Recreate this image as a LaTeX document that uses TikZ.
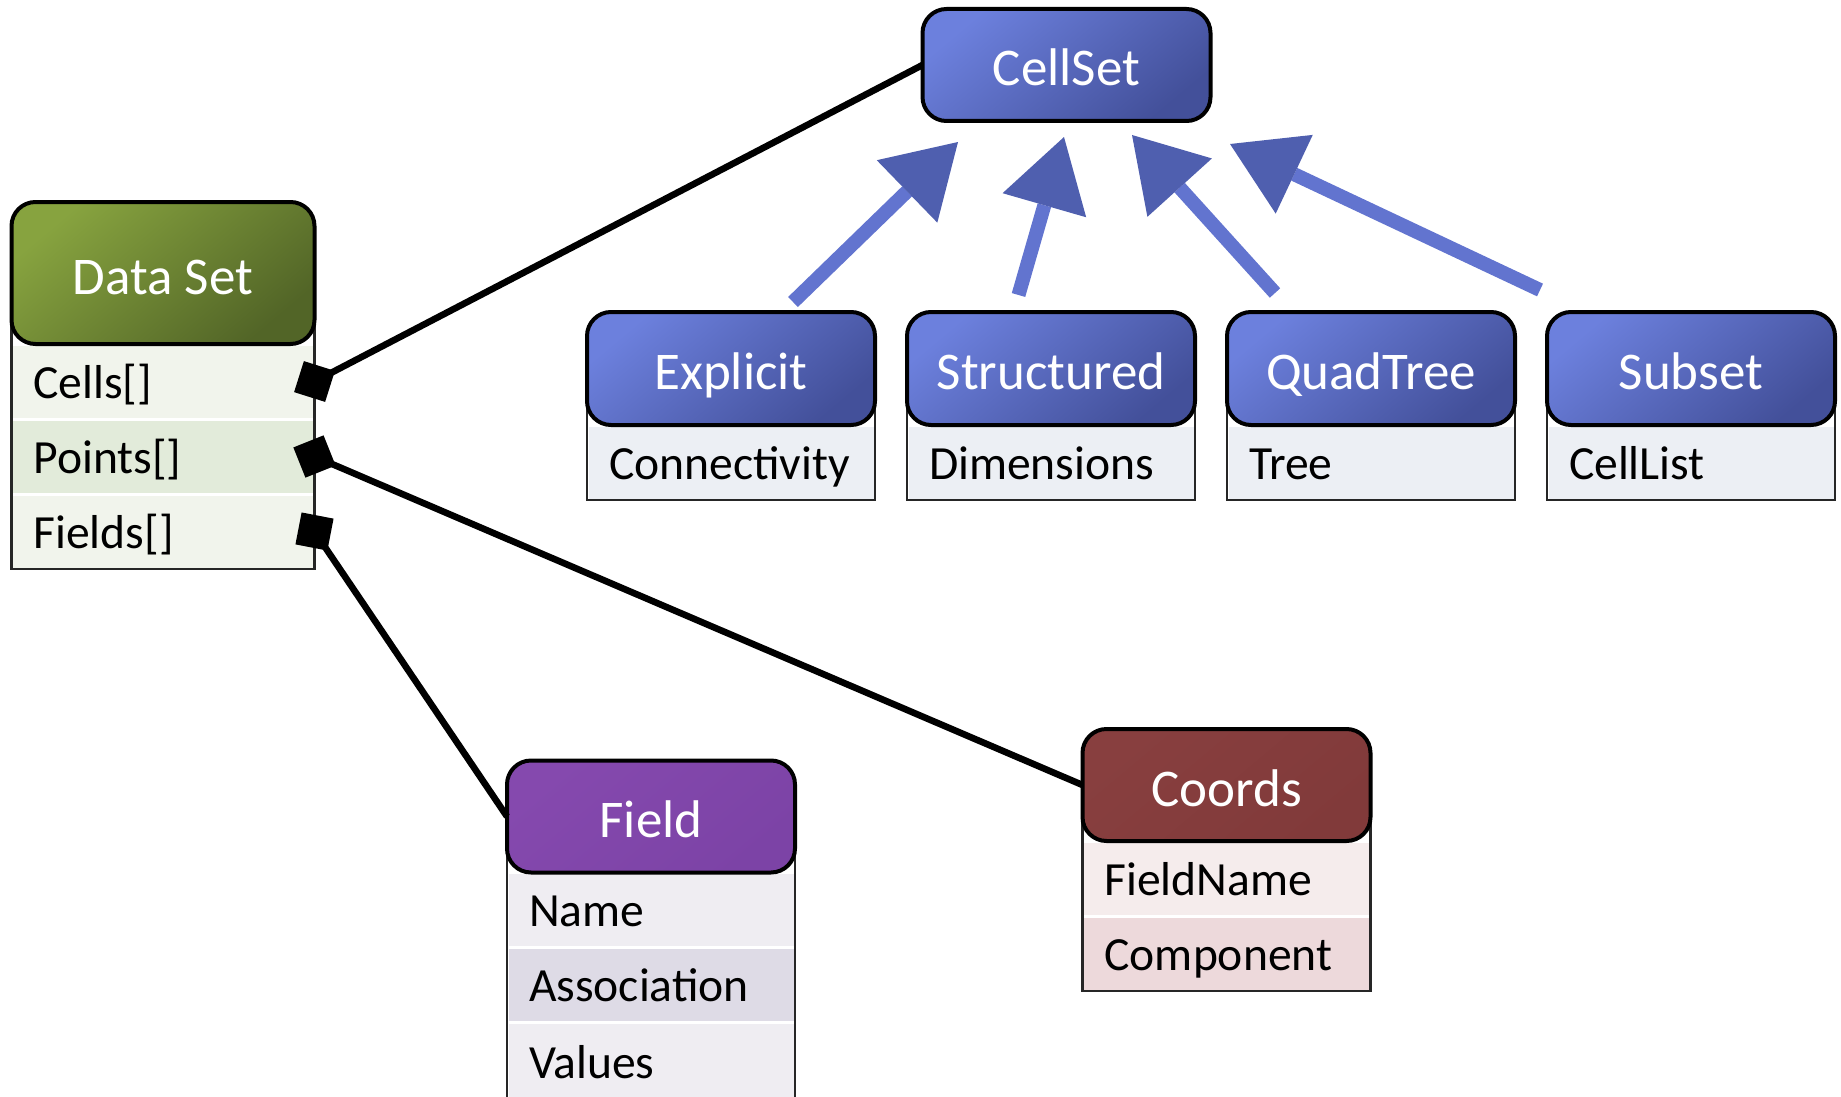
\documentclass[tikz,border=0pt]{standalone}
\usepackage{fontspec}
\setmainfont{Carlito}
\usetikzlibrary{positioning,arrows.meta}
\definecolor{blueA}{HTML}{6C80DD}
\definecolor{blueB}{HTML}{43509A}
\definecolor{greenA}{HTML}{87A33F}
\definecolor{greenB}{HTML}{526527}
\definecolor{purpA}{HTML}{8549AE}
\definecolor{purpB}{HTML}{7C43A6}
\definecolor{brownA}{HTML}{883F3F}
\definecolor{brownB}{HTML}{813A3A}
\definecolor{dsLight}{HTML}{F1F4EC}
\definecolor{dsDark}{HTML}{E2EBDA}
\definecolor{blueBody}{HTML}{ECEFF4}
\definecolor{fLight}{HTML}{EFEDF2}
\definecolor{fDark}{HTML}{DEDBE6}
\definecolor{cLight}{HTML}{F5ECEC}
\definecolor{cDark}{HTML}{EDD9DB}
\definecolor{shaftBlue}{HTML}{6274CF}
\definecolor{headBlue}{HTML}{4F5FAF}
\pgfdeclarelayer{bg}
\pgfsetlayers{bg,main}
\begin{document}
\begin{tikzpicture}[x=0.5pt, y=-0.5pt, line join=round,
    hdr/.style={draw=black, line width=2pt, rounded corners=12pt, text=white, font=\fontsize{26.5}{30}\selectfont, minimum width=144pt, minimum height=56pt, text height=21pt, text depth=0pt, inner sep=0pt, outer sep=0pt},
    bluehdr/.style={hdr, top color=blueA, bottom color=blueB, shading angle=40},
    greenhdr/.style={hdr, top color=greenA, bottom color=greenB, shading angle=40},
    purphdr/.style={hdr, top color=purpA, bottom color=purpB, shading angle=40},
    brownhdr/.style={hdr, top color=brownA, bottom color=brownB, shading angle=40},
    row/.style={fill=#1, draw=white, line width=1.5pt, font=\fontsize{23.8}{28}\selectfont, text width=122pt, inner xsep=11pt, inner ysep=0pt, outer sep=0pt, minimum height=37.5pt, text height=16.8pt, text depth=0pt, align=left},
    frame/.style={draw=black!85, line width=1.1pt},
    conn/.style={line width=3.3pt, {Diamond[length=23pt,width=23pt,line width=0pt]}-, shorten <=-11.5pt},
    inh/.style={line width=7pt, shaftBlue, -{Triangle[length=35.5pt,width=43.5pt,line width=0pt,color=headBlue]}}]
    \useasboundingbox (0,0) rectangle (1841,1097);

    \node[greenhdr, minimum width=151.5pt, minimum height=71pt] (dataset) at (163,273) {Data Set};
    \begin{pgfonlayer}{bg}
        \node[row=dsLight, text width=129.5pt, below=0pt of dataset] (cells) {Cells[]};
        \node[row=dsDark, text width=129.5pt, below=0pt of cells] (points) {Points[]};
        \node[row=dsLight, text width=129.5pt, below=0pt of points] (fields) {Fields[]};
        \draw[frame] (dataset.west) rectangle (fields.south east);
    \end{pgfonlayer}

    \node[bluehdr] (cellset) at (1066.5,65) {CellSet};

    \foreach \nm/\title/\item [count=\i] in {explicit/Explicit/Connectivity, structured/Structured/Dimensions, quadtree/QuadTree/Tree, subset/Subset/CellList}
    {
        \node[bluehdr, minimum height=56.5pt] (\nm) at (411+320*\i,368.5) {\title};
        \begin{pgfonlayer}{bg}
            \node[row=blueBody, below=0pt of \nm] (\nm-f) {\item};
            \draw[frame] (\nm.west) rectangle (\nm-f.south east);
        \end{pgfonlayer}
    }

    \node[purphdr] (field) at (651,816.5) {Field};
    \begin{pgfonlayer}{bg}
        \node[row=fLight, below=0pt of field] (name) {Name};
        \node[row=fDark, below=0pt of name] (assoc) {Association};
        \node[row=fLight, minimum height=39pt, below=0pt of assoc] (values) {Values};
        \draw[frame] (field.west) rectangle (values.south east);
    \end{pgfonlayer}

    \node[brownhdr] (coords) at (1226.5,785) {Coords};
    \begin{pgfonlayer}{bg}
        \node[row=cLight, below=0pt of coords] (fname) {FieldName};
        \node[row=cDark, below=0pt of fname] (comp) {Component};
        \draw[frame] (coords.west) rectangle (comp.south east);
    \end{pgfonlayer}

    \draw[inh] ([xshift=31pt,yshift=5pt]explicit.north) -- ([xshift=-54.25pt,yshift=-10.5pt]cellset.south);
    \draw[inh] ([xshift=-16.25pt,yshift=8.5pt]structured.north) -- ([xshift=-1.25pt,yshift=-8pt]cellset.south);
    \draw[inh] ([xshift=-48pt,yshift=9.5pt]quadtree.north) -- ([xshift=32.75pt,yshift=-7pt]cellset.south);
    \draw[inh] ([xshift=-75.5pt,yshift=11pt]subset.north) -- ([xshift=81.75pt,yshift=-11.5pt]cellset.south);

    \draw[conn] (cells.east) -- (cellset.west);
    \draw[conn] (points.east) -- (coords.west);
    \draw[conn] (fields.east) -- (field.west);
\end{tikzpicture}
\end{document}
